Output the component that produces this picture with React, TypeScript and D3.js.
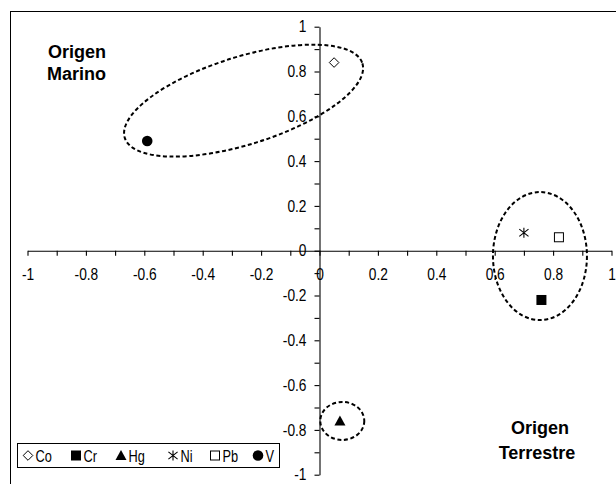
import React, { useEffect, useRef } from 'react';
import * as d3 from 'd3';

// element loadings on the two factors
const elements = ['Co', 'Cr', 'Hg', 'Ni', 'Pb', 'V'];
const factor1 = [0.05, 0.76, 0.07, 0.7, 0.82, -0.59];
const factor2 = [0.84, -0.22, -0.76, 0.08, 0.06, 0.49];
const axisLabels = [-1, -0.8, -0.6, -0.4, -0.2, 0, 0.2, 0.4, 0.6, 0.8, 1];

// dashed groupings (centres in data units)
const groupCx = [-0.26, 0.755, 0.078];
const groupCy = [0.67, -0.024, -0.76];

const W = 616;
const H = 484;
const FONT = '"Liberation Sans", Arial, sans-serif';
const SQUEEZE = 0.86; // labels in the original look a bit condensed

// ellipse radii in px + rotation (layout only)
const groupShape = [
  { rx: 124.5, ry: 43.8, rot: -17.4 },
  { rx: 47, ry: 64, rot: 0 },
  { rx: 22, ry: 19, rot: 0 },
];
const legendMarkerX = [28, 76, 121, 173, 215, 258];

function drawMarker(g: any, name: string) {
  if (name === 'Co') {
    g.append('path').attr('d', 'M0,-4.8L4.8,0L0,4.8L-4.8,0Z')
      .attr('fill', '#fff').attr('stroke', '#000').attr('stroke-width', 1);
  } else if (name === 'Cr') {
    g.append('rect').attr('x', -5).attr('y', -5).attr('width', 10).attr('height', 10).attr('fill', '#000');
  } else if (name === 'Hg') {
    g.append('path').attr('d', 'M0,-5.5L5.5,4.5L-5.5,4.5Z').attr('fill', '#000');
  } else if (name === 'Ni') {
    g.append('path').attr('d', 'M0,-5V5M-4.6,-3.6L4.6,3.6M-4.6,3.6L4.6,-3.6')
      .attr('stroke', '#000').attr('stroke-width', 1.1).attr('fill', 'none');
  } else if (name === 'Pb') {
    g.append('rect').attr('x', -4.5).attr('y', -4.5).attr('width', 9).attr('height', 9)
      .attr('fill', '#fff').attr('stroke', '#000').attr('stroke-width', 1);
  } else {
    g.append('circle').attr('r', 5.3).attr('fill', '#000');
  }
}

export default function App() {
  const svgRef = useRef<SVGSVGElement>(null);

  useEffect(() => {
    const svg = d3.select(svgRef.current);
    svg.selectAll('*').remove();

    const x = d3.scaleLinear().domain([-1, 1]).range([27.5, 611.5]);
    const y = d3.scaleLinear().domain([-1, 1]).range([474.7, 26.7]);

    // outer frame
    svg.append('rect')
      .attr('x', 10.5).attr('y', 11.5).attr('width', 700).attr('height', 700)
      .attr('fill', '#fff').attr('stroke', '#000').attr('stroke-width', 1);

    const allTicks = d3.range(-10, 11).map((i) => i / 10);
    const fmt = (v: any) => {
      const hit = axisLabels.find((l) => Math.abs(l - v) < 1e-6);
      return hit === undefined ? '' : String(hit);
    };

    const xAxis = svg.append('g')
      .attr('transform', 'translate(0,' + y(0) + ')')
      .call(d3.axisBottom(x).tickValues(allTicks).tickFormat(fmt).tickSize(5).tickSizeOuter(0).tickPadding(13));
    const yAxis = svg.append('g')
      .attr('transform', 'translate(' + x(0) + ',0)')
      .call(d3.axisLeft(y).tickValues(allTicks).tickFormat(fmt).tickSize(5).tickSizeOuter(0).tickPadding(8));

    [xAxis, yAxis].forEach((a) => {
      a.attr('font-family', FONT).attr('font-size', 16);
      a.selectAll('path, line').attr('stroke', '#000').attr('stroke-width', 1.1);
      a.selectAll('text').attr('fill', '#000').attr('transform', 'scale(' + SQUEEZE + ',1)');
    });
    yAxis.selectAll('text').attr('x', -13 / SQUEEZE);

    // dashed ellipses
    groupCx.forEach((cx, i) => {
      const s = groupShape[i];
      svg.append('ellipse')
        .attr('transform', 'translate(' + x(cx) + ',' + y(groupCy[i]) + ') rotate(' + s.rot + ')')
        .attr('rx', s.rx).attr('ry', s.ry)
        .attr('fill', 'none').attr('stroke', '#000')
        .attr('stroke-width', 2).attr('stroke-dasharray', '4,2.6');
    });

    // points
    elements.forEach((name, i) => {
      const g = svg.append('g').attr('transform', 'translate(' + x(factor1[i]) + ',' + y(factor2[i]) + ')');
      drawMarker(g, name);
    });

    // region labels
    const lab = svg.append('g').attr('font-family', FONT).attr('font-size', 18).attr('font-weight', 'bold');
    lab.append('text').attr('x', 48).attr('y', 58).text('Origen');
    lab.append('text').attr('x', 47).attr('y', 80).text('Marino');
    lab.append('text').attr('x', 540).attr('y', 434).attr('text-anchor', 'middle').text('Origen');
    lab.append('text').attr('x', 537).attr('y', 459).attr('text-anchor', 'middle').text('Terrestre');

    // legend
    const leg = svg.append('g');
    leg.append('rect').attr('x', 17.5).attr('y', 443.5).attr('width', 262).attr('height', 24)
      .attr('fill', '#fff').attr('stroke', '#000').attr('stroke-width', 1);
    elements.forEach((name, i) => {
      const g = leg.append('g').attr('transform', 'translate(' + legendMarkerX[i] + ',455.5)');
      drawMarker(g, name);
      leg.append('text')
        .attr('transform', 'translate(' + (legendMarkerX[i] + 7.5) + ',461.5) scale(0.8,1)')
        .attr('font-family', FONT).attr('font-size', 16).text(name);
    });
  }, []);

  return (
    <svg ref={svgRef} width={W} height={H} style={{ position: 'absolute', left: 0, top: 0, background: '#fff' }} />
  );
}
